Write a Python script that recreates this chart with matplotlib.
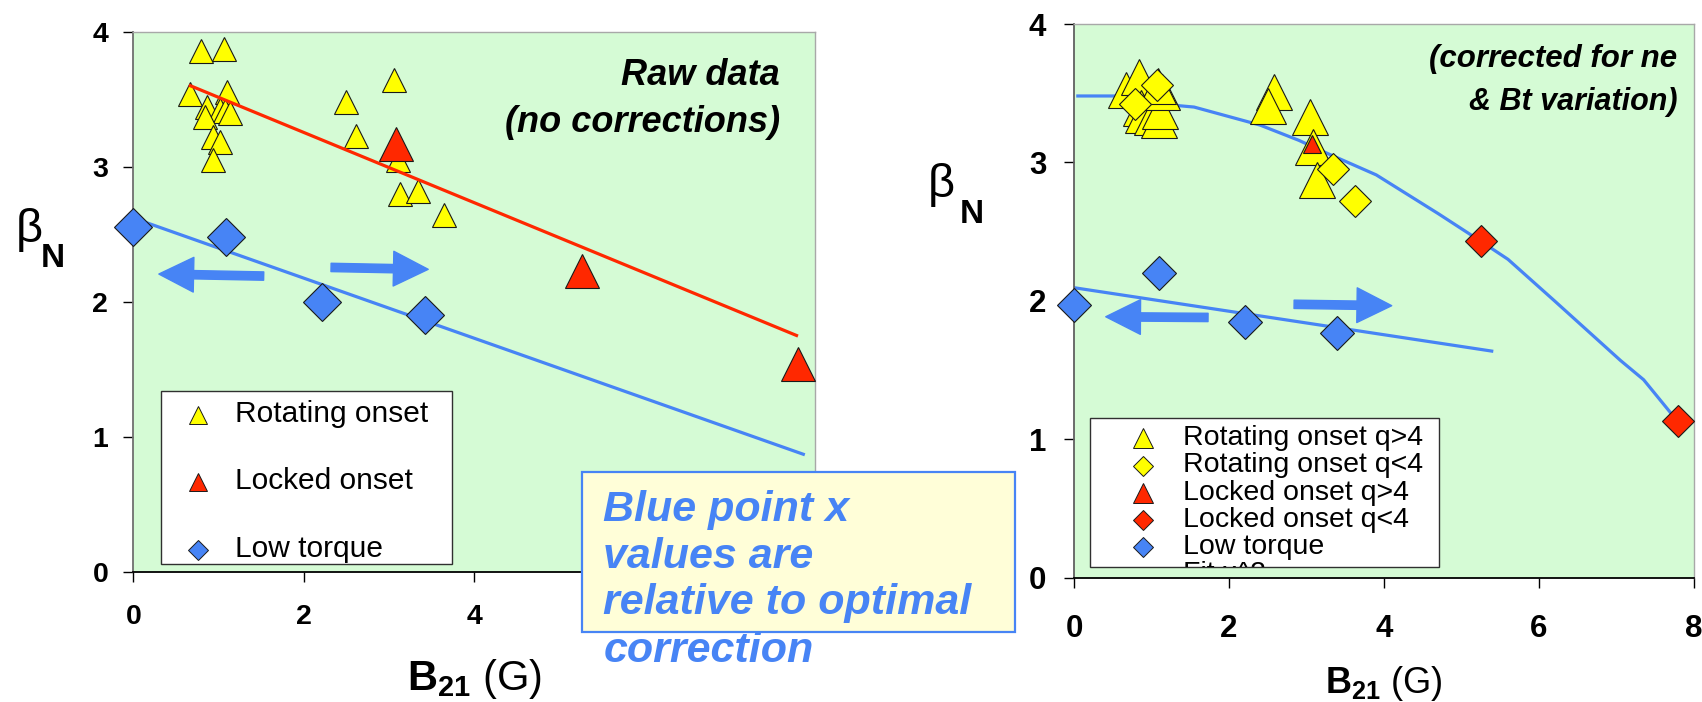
import matplotlib
matplotlib.use('Agg')
import matplotlib.pyplot as plt
from matplotlib.patches import Rectangle, FancyArrowPatch, ArrowStyle

plt.rcParams['font.family'] = ['Liberation Sans', 'DejaVu Sans']
plt.rcParams['mathtext.fontset'] = 'custom'
plt.rcParams['mathtext.rm'] = 'Liberation Sans'
plt.rcParams['mathtext.bf'] = 'Liberation Sans:bold'

GREEN = '#d5fbd5'
YELLOW = '#ffff00'
RED = '#ff2800'
BLUE = '#4784f5'
EDGE = '#1a1a1a'

# ---- raw data (left panel) ----
raw_rot_x = [0.79, 1.07, 0.67, 1.10, 0.87, 1.02, 1.08, 1.13, 0.84, 0.93, 1.02, 0.93,
             2.50, 2.61, 3.06, 3.11, 3.13, 3.34, 3.64]
raw_rot_y = [3.86, 3.87, 3.54, 3.55, 3.44, 3.42, 3.41, 3.40, 3.37, 3.22, 3.18, 3.05,
             3.48, 3.23, 3.64, 3.05, 2.80, 2.82, 2.64]
raw_lock_x = [3.08, 5.26, 7.80]
raw_lock_y = [3.17, 2.23, 1.54]
raw_low_x = [0.0, 1.09, 2.21, 3.42]
raw_low_y = [2.55, 2.48, 2.00, 1.90]
raw_fit_x = [0.67, 7.78]
raw_fit_y = [3.60, 1.75]
raw_low_fit_x = [0.0, 7.86]
raw_low_fit_y = [2.62, 0.87]
raw_arrows = [((1.53, 2.19), (0.30, 2.205)), ((2.32, 2.254), (3.46, 2.24))]

# ---- corrected data (right panel) ----
cor_rot_hi_x = [0.67, 0.84, 0.87, 0.89, 1.01, 1.10, 1.11, 1.13, 1.09,
                2.58, 2.50, 3.045, 3.09, 3.135]
cor_rot_hi_y = [3.52, 3.62, 3.39, 3.34, 3.33, 3.31, 3.37, 3.51, 3.55,
                3.51, 3.41, 3.33, 3.11, 2.87]
cor_rot_lo_x = [0.79, 1.07, 3.34, 3.63]
cor_rot_lo_y = [3.42, 3.56, 2.95, 2.72]
cor_lock_hi_x = [3.075]
cor_lock_hi_y = [3.13]
cor_lock_lo_x = [5.25, 7.80]
cor_lock_lo_y = [2.43, 1.13]
cor_low_x = [0.0, 1.10, 2.21, 3.39]
cor_low_y = [1.97, 2.20, 1.85, 1.77]
cor_low_fit_x = [0.0, 5.39]
cor_low_fit_y = [2.095, 1.637]
cor_curve_x = [0.05, 0.55, 0.90, 1.35, 1.55, 2.40, 2.90, 3.25, 3.90, 4.70,
               5.25, 5.60, 6.20, 7.05, 7.35, 7.70]
cor_curve_y = [3.48, 3.48, 3.46, 3.41, 3.40, 3.27, 3.16, 3.07, 2.91, 2.63,
               2.43, 2.30, 2.00, 1.57, 1.43, 1.19]
cor_arrows = [((1.73, 1.88), (0.41, 1.885)), ((2.84, 1.975), (4.10, 1.965))]

x_ticks = [0, 2, 4, 6, 8]
y_ticks = [0, 1, 2, 3, 4]

fig = plt.figure(figsize=(17.02, 7.02), dpi=100)
ax1 = fig.add_axes([0.0783, 0.1856, 0.4007, 0.7692])
ax2 = fig.add_axes([0.6310, 0.1771, 0.3643, 0.7887])


def style_axes(ax, tick_size, xpad, ypad, left_color):
    ax.set_facecolor(GREEN)
    ax.set_xlim(0, 8)
    ax.set_ylim(0, 4)
    ax.set_xticks(x_ticks)
    ax.set_yticks(y_ticks)
    ax.tick_params(direction='out', length=7, width=1, labelsize=tick_size)
    ax.tick_params(axis='x', pad=xpad)
    ax.tick_params(axis='y', pad=ypad)
    for lab in ax.get_xticklabels() + ax.get_yticklabels():
        lab.set_fontweight('bold')
    ax.spines['left'].set_color(left_color)
    ax.spines['left'].set_linewidth(1.3)
    ax.spines['bottom'].set_color('black')
    ax.spines['bottom'].set_linewidth(1.3)
    for s in ('top', 'right'):
        ax.spines[s].set_color('#a8a8a8')
        ax.spines[s].set_linewidth(1)


def scatter(ax, x, y, marker, color, ms, z):
    ax.plot(x, y, linestyle='none', marker=marker, ms=ms, mfc=color, mec=EDGE,
            mew=0.8, clip_on=False, zorder=z)


def block_arrows(ax, arrows):
    style = ArrowStyle.Simple(head_length=25, head_width=25, tail_width=6)
    for tail, tip in arrows:
        ax.add_patch(FancyArrowPatch(tail, tip, arrowstyle=style, mutation_scale=1,
                                     color=BLUE, shrinkA=0, shrinkB=0, zorder=4))


def draw_key(ax, box, rows, mx, tx, fontsize, clip_last=False):
    x0, y0, x1, y1 = box
    frame = Rectangle((x0, y0), x1 - x0, y1 - y0, transform=ax.transAxes,
                      facecolor='white', edgecolor='#303030', lw=1, zorder=8, clip_on=False)
    ax.add_patch(frame)
    for i, (marker, color, ms, label, my, ty) in enumerate(rows):
        if marker:
            ax.plot([mx], [my], transform=ax.transAxes, linestyle='none', marker=marker,
                    ms=ms, mfc=color, mec=EDGE, mew=0.7, clip_on=False, zorder=9)
        t = ax.text(tx, ty, label, transform=ax.transAxes, fontsize=fontsize,
                    va='baseline', ha='left', zorder=9)
        if clip_last and i == len(rows) - 1:
            t.set_clip_on(True)
            t.set_clip_path(frame)


# ---- left panel: raw data ----
style_axes(ax1, 20.5, 16, 11, '#707070')
ax1.plot(raw_low_fit_x, raw_low_fit_y, color=BLUE, lw=2.3, zorder=2)
scatter(ax1, raw_rot_x, raw_rot_y, '^', YELLOW, 17, 3)
scatter(ax1, raw_lock_x, raw_lock_y, '^', RED, 24, 3.5)
scatter(ax1, raw_low_x, raw_low_y, 'D', BLUE, 19.3, 3.5)
ax1.plot(raw_fit_x, raw_fit_y, color=RED, lw=2.3, zorder=3.2)
block_arrows(ax1, raw_arrows)

ax1.text(0.948, 0.901, 'Raw data', transform=ax1.transAxes, ha='right', va='baseline',
         fontsize=26, fontweight='bold', fontstyle='italic')
ax1.text(0.948, 0.815, '(no corrections)', transform=ax1.transAxes, ha='right',
         va='baseline', fontsize=26, fontweight='bold', fontstyle='italic')

draw_key(ax1, (0.0406, 0.0137, 0.467, 0.3346),
         [('^', YELLOW, 13.5, 'Rotating onset', 0.2907, 0.2778),
          ('^', RED, 13.5, 'Locked onset', 0.1654, 0.1526),
          ('D', BLUE, 9.7, 'Low torque', 0.0402, 0.0274)],
         0.0944, 0.149, 21.5)

ax1.text(0.5, -0.219, r'$\mathbf{B}_{\mathbf{21}}$ (G)', transform=ax1.transAxes,
         ha='center', va='baseline', fontsize=30)

# ---- right panel: corrected data ----
style_axes(ax2, 22.5, 19, 13, '#606060')
ax2.plot(cor_curve_x, cor_curve_y, color=BLUE, lw=2.3, zorder=2)
ax2.plot(cor_low_fit_x, cor_low_fit_y, color=BLUE, lw=2.3, zorder=2)
scatter(ax2, cor_rot_hi_x, cor_rot_hi_y, '^', YELLOW, 26, 3)
scatter(ax2, cor_rot_lo_x, cor_rot_lo_y, 'D', YELLOW, 16.3, 3.2)
scatter(ax2, cor_lock_hi_x, cor_lock_hi_y, '^', RED, 12.5, 3.4)
scatter(ax2, cor_lock_lo_x, cor_lock_lo_y, 'D', RED, 16, 3.4)
scatter(ax2, cor_low_x, cor_low_y, 'D', BLUE, 17.5, 3.4)
block_arrows(ax2, cor_arrows)

ax2.text(0.973, 0.923, '(corrected for ne', transform=ax2.transAxes, ha='right',
         va='baseline', fontsize=22.5, fontweight='bold', fontstyle='italic')
ax2.text(0.973, 0.845, '& Bt variation)', transform=ax2.transAxes, ha='right',
         va='baseline', fontsize=22, fontweight='bold', fontstyle='italic')

draw_key(ax2, (0.026, 0.020, 0.589, 0.289),
         [('^', YELLOW, 14, 'Rotating onset q>4', 0.252, 0.240),
          ('D', YELLOW, 10, 'Rotating onset q<4', 0.202, 0.191),
          ('^', RED, 14, 'Locked onset q>4', 0.153, 0.141),
          ('D', RED, 10, 'Locked onset q<4', 0.104, 0.092),
          ('D', BLUE, 10, 'Low torque', 0.055, 0.043),
          (None, None, 0, 'Fit x^2', 0.0, -0.006)],
         0.112, 0.1755, 20.5, clip_last=True)

ax2.text(0.5, -0.209, r'$\mathbf{B}_{\mathbf{21}}$ (G)', transform=ax2.transAxes,
         ha='center', va='baseline', fontsize=26)

# beta_N axis titles, placed in figure pixels
W, H = 1702.0, 702.0
for bx, by, nx, ny in [(16, 242, 41, 267), (928, 197, 960, 223)]:
    fig.text(bx / W, 1 - by / H, '\u03b2', fontsize=34, va='baseline', ha='left')
    fig.text(nx / W, 1 - ny / H, 'N', fontsize=24, fontweight='bold', va='baseline', ha='left')

# note box overlapping the left panel
note_lines = ['Blue point x', 'values are', 'relative to optimal', 'correction']
note_base = [521, 567.7, 614.3, 661.7]
fig.add_artist(Rectangle((582 / W, 1 - 632.3 / H), (1015.3 - 582) / W, (632.3 - 472.3) / H,
                         transform=fig.transFigure, facecolor='#fffed8', edgecolor=BLUE,
                         lw=1.6, zorder=10))
for line, yb in zip(note_lines, note_base):
    fig.text(603.3 / W, 1 - yb / H, line, fontsize=31, fontweight='bold', fontstyle='italic',
             color=BLUE, va='baseline', ha='left', zorder=11)

fig.savefig('out.png', dpi=100)
